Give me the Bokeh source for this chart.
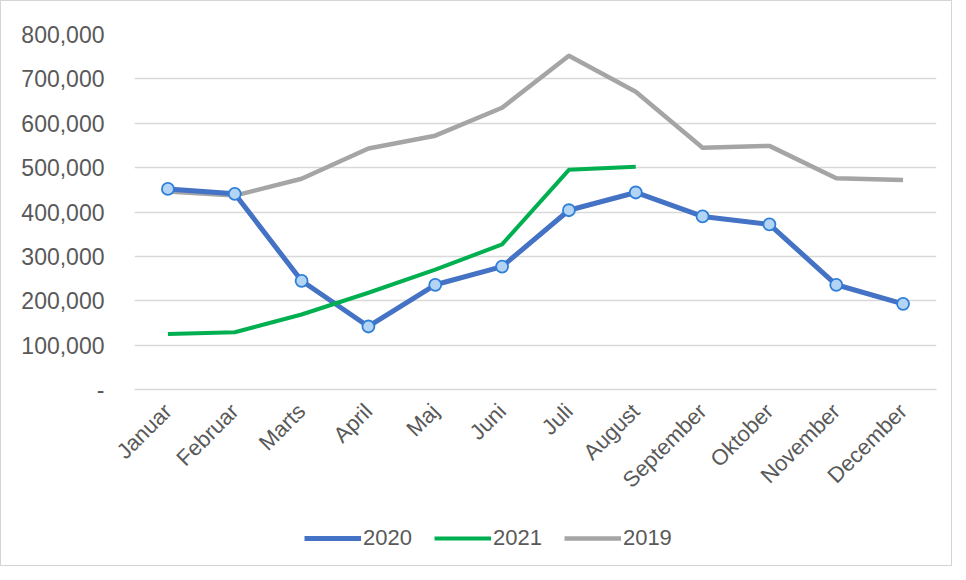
import math
from bokeh.plotting import figure
from bokeh.layouts import column
from bokeh.models import FixedTicker, Legend, LegendItem, Range1d
from bokeh.embed import file_html
from bokeh.resources import INLINE

months = ["Januar", "Februar", "Marts", "April", "Maj", "Juni", "Juli",
          "August", "September", "Oktober", "November", "December"]
y2020 = [452000, 441000, 245000, 142000, 236000, 277000, 404000, 444000, 390000, 372000, 236000, 193000]
y2021 = [125000, 129000, 169000, 218000, 270000, 327000, 495000, 502000]
y2019 = [446000, 437000, 475000, 543000, 572000, 635000, 752000, 671000, 545000, 549000, 476000, 472000]
y_ticks = [0, 100000, 200000, 300000, 400000, 500000, 600000, 700000, 800000]
y_tick_labels = ["-", "100,000", "200,000", "300,000", "400,000", "500,000",
                 "600,000", "700,000", "800,000"]

FONT = "Liberation Sans"
TXT = "#595959"
GRID = "#d9d9d9"
C20, C21, C19 = "#4472c4", "#00b050", "#a5a5a5"

p = figure(x_range=months, y_range=Range1d(0, 800000), width=950, height=505,
           output_backend="svg", toolbar_location=None,
           min_border_left=133, min_border_right=15, min_border_top=33,
           min_border_bottom=117)
p.outline_line_color = None
p.background_fill_color = "white"
p.border_fill_color = "white"

p.xgrid.grid_line_color = None
p.ygrid.grid_line_color = GRID
p.ygrid.grid_line_width = 1.5

p.yaxis.ticker = FixedTicker(ticks=y_ticks)
p.yaxis.major_label_overrides = {t: l for t, l in zip(y_ticks, y_tick_labels)}
p.yaxis.axis_line_color = None
p.yaxis.major_tick_line_color = None
p.yaxis.minor_tick_line_color = None
p.yaxis.major_label_standoff = 24
p.yaxis.major_label_text_font = FONT
p.yaxis.major_label_text_font_size = "23px"
p.yaxis.major_label_text_color = TXT

p.xaxis.axis_line_color = GRID
p.xaxis.axis_line_width = 1.5
p.xaxis.major_tick_line_color = None
p.xaxis.minor_tick_line_color = None
p.xaxis.major_label_orientation = math.pi / 4
p.xaxis.major_label_standoff = 12
p.xaxis.major_label_text_font = FONT
p.xaxis.major_label_text_font_size = "22px"
p.xaxis.major_label_text_color = TXT

p.line(months, y2019, line_color=C19, line_width=4.5, line_join="round")
p.line(months, y2020, line_color=C20, line_width=5, line_join="round")
p.line(months[:len(y2021)], y2021, line_color=C21, line_width=4, line_join="round")
p.scatter(months, y2020, size=12, fill_color="#b3d4f5", line_color="#2f7fd9", line_width=1.8)

# legend strip below the chart (its series lines fall outside its own range,
# so only the legend swatches show)
lg = figure(width=950, height=59, output_backend="svg", toolbar_location=None,
            x_axis_type=None, y_axis_type=None,
            x_range=months, y_range=Range1d(-2, -1),
            min_border_left=0, min_border_right=0, min_border_top=0, min_border_bottom=0)
lg.outline_line_color = None
lg.xgrid.grid_line_color = None
lg.ygrid.grid_line_color = None
lg.background_fill_color = "white"
l20 = lg.line(months, y2020, line_color=C20, line_width=5)
l21 = lg.line(months[:len(y2021)], y2021, line_color=C21, line_width=4)
l19 = lg.line(months, y2019, line_color=C19, line_width=4.5)
legend = Legend(items=[LegendItem(label="2020", renderers=[l20]),
                       LegendItem(label="2021", renderers=[l21]),
                       LegendItem(label="2019", renderers=[l19])],
                orientation="horizontal", location=(170, 14),
                glyph_width=57, glyph_height=20, label_standoff=2, spacing=22,
                padding=0, margin=0, border_line_color=None,
                background_fill_alpha=0,
                label_text_font=FONT, label_text_font_size="22px",
                label_text_color=TXT)
lg.add_layout(legend, "center")

layout = column(p, lg, spacing=0)
layout.styles = {"border": "1px solid #d4d4d4"}

open("out.html", "w").write(file_html(layout, INLINE))
